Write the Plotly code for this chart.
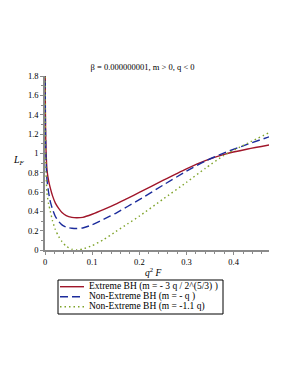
import plotly.graph_objects as go

# Data
x_vals = [0.0002, 0.0006, 0.0012, 0.0022, 0.0042, 0.0075, 0.0113, 0.016, 0.022, 0.029,
          0.036, 0.045, 0.057, 0.068, 0.08, 0.1, 0.125, 0.15, 0.175, 0.2, 0.25, 0.3,
          0.34, 0.38, 0.43, 0.476]

extreme = [2.6, 1.6, 1.25, 1.03, 0.83, 0.72, 0.64, 0.56, 0.485, 0.43,
           0.387, 0.355, 0.337, 0.333, 0.338, 0.37, 0.42, 0.475, 0.535, 0.595, 0.72, 0.84,
           0.925, 0.99, 1.045, 1.087]

nonext_q = [2.5, 1.5, 1.15, 0.93, 0.727, 0.60, 0.50, 0.42, 0.346, 0.295,
            0.26, 0.237, 0.225, 0.222, 0.228, 0.26, 0.32, 0.38, 0.45, 0.52, 0.67, 0.815,
            0.92, 1.005, 1.095, 1.172]

nonext_11q = [2.4, 1.4, 1.0, 0.80, 0.59, 0.48, 0.40, 0.30, 0.21, 0.14,
              0.086, 0.04, 0.008, 0.0, 0.01, 0.045, 0.11, 0.19, 0.27, 0.35, 0.525, 0.70,
              0.845, 0.98, 1.105, 1.215]

names = ["Extreme BH (m = - 3 q / 2^(5/3) )",
         "Non-Extreme BH (m = - q )",
         "Non-Extreme BH (m = -1.1 q)"]
colors = ["#a0162a", "#1c2c9c", "#7fa32a"]
dashes = ["solid", "8px,4px", "1.5px,3px"]
series = [extreme, nonext_q, nonext_11q]

y_ticks = [0, 0.2, 0.4, 0.6, 0.8, 1, 1.2, 1.4, 1.6, 1.8]
y_tick_text = ["0", "0.2", "0.4", "0.6", "0.8", "1", "1.2", "1.4", "1.6", "1.8"]
x_ticks = [0, 0.1, 0.2, 0.3, 0.4]
x_tick_text = ["0", "0.1", "0.2", "0.3", "0.4"]

FONT = "Liberation Serif"

# plot area in pixels
L, R, T, B = 45, 269, 76, 250
W, H = 291, 376


def px_x(p):
    return (p - L) / (R - L)


def px_y(p):
    return (B - p) / (B - T)


fig = go.Figure()
for name, ys, c, d in zip(names, series, colors, dashes):
    fig.add_trace(go.Scatter(x=x_vals, y=ys, mode="lines", name=name, showlegend=False,
                             hoverinfo="skip",
                             line=dict(color=c, width=1.4, dash=d, shape="spline", smoothing=0.6)))

fig.update_layout(
    width=W, height=H,
    margin=dict(l=L, r=W - R, t=T, b=H - B),
    paper_bgcolor="white", plot_bgcolor="white",
    font=dict(family=FONT, size=8, color="black"),
    title=dict(text="β = 0.000000001, m > 0, q < 0", x=0.49, xanchor="center",
               y=1 - 67 / H, yanchor="middle", font=dict(family=FONT, size=8.5)),
    showlegend=False,
    xaxis=dict(range=[0, 0.475], tickvals=x_ticks, ticktext=x_tick_text,
               showgrid=False, zeroline=False, showline=True, linecolor="#8a8a8a", linewidth=1.5,
               ticks="outside", ticklen=3, tickcolor="#8a8a8a",
               minor=dict(dtick=0.02, ticks="outside", ticklen=2, tickcolor="#8a8a8a"),
               tickfont=dict(family=FONT, size=8.5)),
    yaxis=dict(range=[0, 1.8], tickvals=y_ticks, ticktext=y_tick_text,
               showgrid=False, zeroline=False, showline=True, linecolor="#8a8a8a", linewidth=1.5,
               ticks="outside", ticklen=3, tickcolor="#8a8a8a",
               minor=dict(dtick=0.1, ticks="outside", ticklen=2, tickcolor="#8a8a8a"),
               tickfont=dict(family=FONT, size=8.5)),
)

fig.add_annotation(text="<i>L</i><sub><i>F</i></sub>", xref="paper", yref="paper",
                   x=px_x(19), y=px_y(160), xanchor="center", yanchor="middle",
                   showarrow=False, font=dict(family=FONT, size=10))
fig.add_annotation(text="<i>q</i><sup>2</sup> <i>F</i>", xref="paper", yref="paper",
                   x=px_x(153), y=px_y(272), xanchor="center", yanchor="middle",
                   showarrow=False, font=dict(family=FONT, size=9.5))

# Legend box drawn manually (compact, like the reference)
fig.add_shape(type="rect", xref="paper", yref="paper",
              x0=px_x(58), x1=px_x(223), y0=px_y(280), y1=px_y(314),
              line=dict(color="black", width=1), fillcolor="white")
row_y = [286.7, 296.7, 306.7]
for name, c, d, ry in zip(names, colors, dashes, row_y):
    fig.add_shape(type="line", xref="paper", yref="paper",
                  x0=px_x(60), x1=px_x(84), y0=px_y(ry), y1=px_y(ry),
                  line=dict(color=c, width=1.4, dash=d))
    fig.add_annotation(text=name, xref="paper", yref="paper",
                       x=px_x(86.5), y=px_y(ry), xanchor="left", yanchor="middle",
                       showarrow=False, font=dict(family=FONT, size=9.5))

fig.write_html("out.html", config={"displayModeBar": False},
               post_script="document.body.style.margin='0';")
